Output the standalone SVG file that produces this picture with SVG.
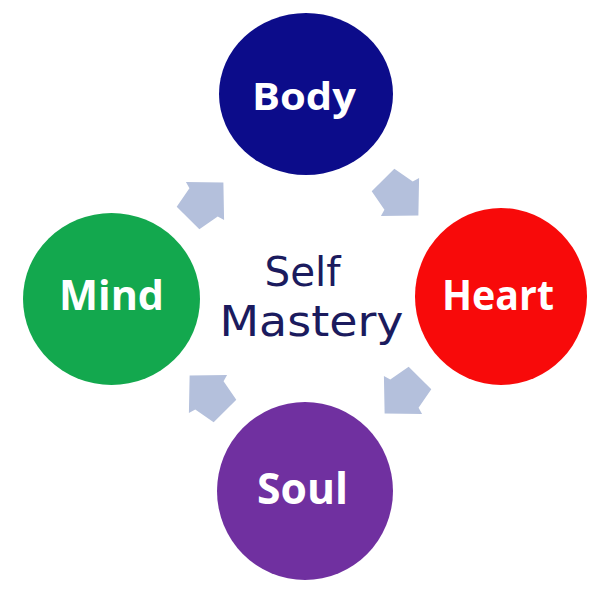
<svg xmlns="http://www.w3.org/2000/svg" width="600" height="592" viewBox="0 0 600 592">
  <style>
    .lbl { font-family: "Open Sans", "Liberation Sans", sans-serif; font-weight: bold; fill: #ffffff; text-anchor: middle; }
    .center { font-family: "DejaVu Sans", "Liberation Sans", sans-serif; fill: #1b1b5e; text-anchor: middle; }
    .arrow { fill: #b4c0dc; }
  </style>
  <defs>
    <polygon id="arr" points="-24,-16 -2,-20 0,-27 26,0 0,27 -2,20 -24,16"/>
  </defs>
  <rect width="600" height="592" fill="#ffffff"/>
  <g id="connectors">
    <use href="#arr" class="arrow" transform="translate(205,201) rotate(-45)"/>
    <use href="#arr" class="arrow" transform="translate(400,197) rotate(45)"/>
    <use href="#arr" class="arrow" transform="translate(403,395) rotate(135)"/>
    <use href="#arr" class="arrow" transform="translate(208,394) rotate(-135)"/>
  </g>
  <g id="body">
    <ellipse cx="306" cy="94" rx="87" ry="81" fill="#0c0c8a"/>
    <text class="lbl" x="304" y="110" font-size="37" textLength="104" lengthAdjust="spacingAndGlyphs">Body</text>
  </g>
  <g id="heart">
    <ellipse cx="501" cy="296.5" rx="86" ry="88.5" fill="#f80a0a"/>
    <text class="lbl" x="498" y="310" font-size="42" textLength="112" lengthAdjust="spacingAndGlyphs">Heart</text>
  </g>
  <g id="soul">
    <ellipse cx="305" cy="491" rx="88" ry="89" fill="#7030a0"/>
    <text class="lbl" x="302.5" y="504" font-size="43" textLength="91" lengthAdjust="spacingAndGlyphs">Soul</text>
  </g>
  <g id="mind">
    <ellipse cx="111.5" cy="299" rx="88.5" ry="86" fill="#13a84e"/>
    <text class="lbl" x="111.5" y="310" font-size="42" textLength="105" lengthAdjust="spacingAndGlyphs">Mind</text>
  </g>
  <g id="self-mastery">
    <text class="center" x="302.5" y="286" font-size="40" textLength="76" lengthAdjust="spacingAndGlyphs">Self</text>
    <text class="center" x="311.5" y="336" font-size="42" textLength="184" lengthAdjust="spacingAndGlyphs">Mastery</text>
  </g>
</svg>
